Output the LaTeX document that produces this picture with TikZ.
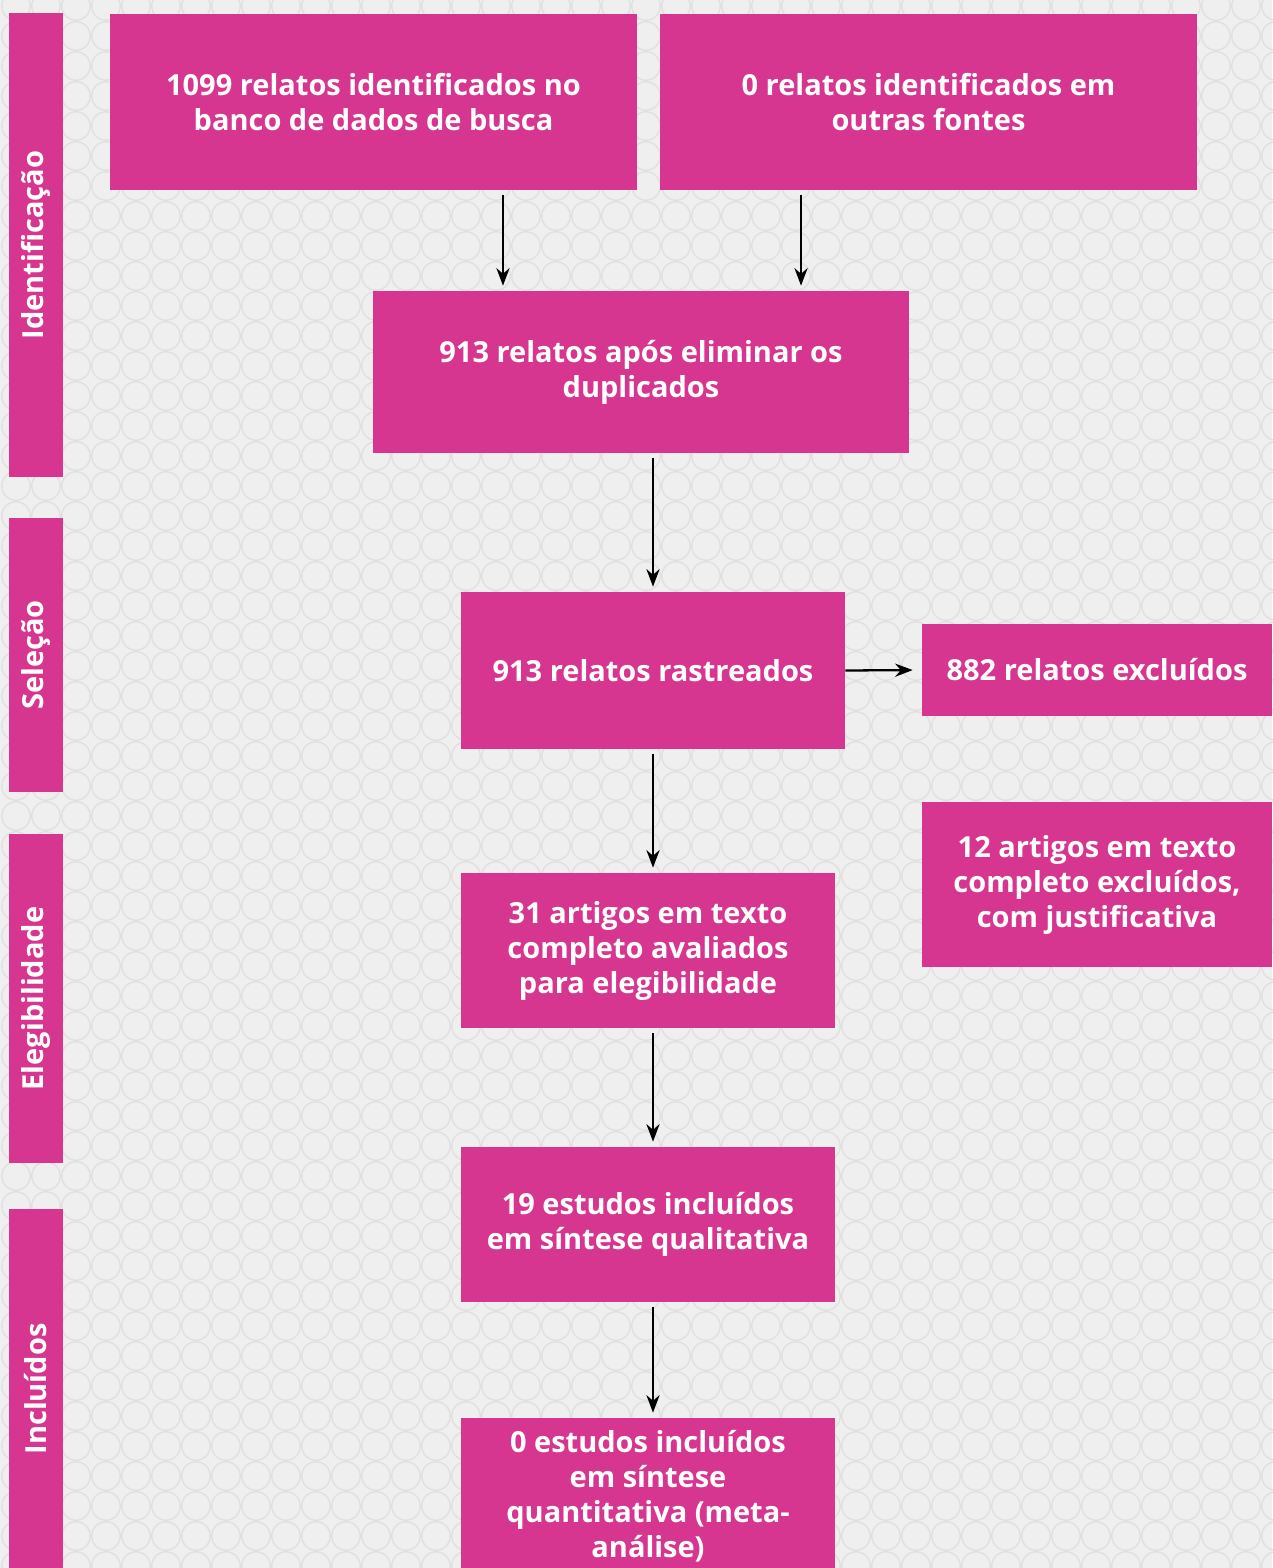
\documentclass[tikz,border=0pt]{standalone}
\usepackage{fontspec}
\setmainfont{Open Sans}
\usetikzlibrary{arrows.meta}

\definecolor{rosa}{RGB}{214,54,143}
\definecolor{fundo}{RGB}{239,239,239}
\definecolor{anel}{RGB}{224,224,224}

\tikzstyle{caixa} = [
    rectangle,
    fill=rosa,
    text=white,
    font=\bfseries\fontsize{16.5}{19.9}\selectfont,
    align=center,
    inner sep=0pt
]
\tikzstyle{fase} = [
    rectangle,
    rotate=90,
    fill=rosa,
    text=white,
    font=\bfseries\fontsize{16.5}{19.9}\selectfont,
    minimum height=1.08cm,
    inner sep=0pt
]
\tikzstyle{arrow} = [line width=1.3pt,-{Stealth[length=10pt,width=7.5pt]},shorten <=0.1cm,shorten >=0.1cm]

\begin{document}
\begin{tikzpicture}[x=0.02cm, y=-0.02cm]

% fundo com circulos
\fill[fundo] (0,0) rectangle (1272,1568);
\useasboundingbox (0,0) rectangle (1272,1568);
\foreach \i in {0,...,42}
  \foreach \j in {0,...,52}
    \draw[anel, line width=0.8pt] (16+30*\i, 6+30*\j) circle[radius=0.285cm];

% fases
\node (ident) [fase, minimum width=9.28cm] at (36,245) {Identificação};
\node (selec) [fase, minimum width=5.48cm] at (36,655) {Seleção};
\node (eleg) [fase, minimum width=6.58cm] at (36,998.5) {Elegibilidade};
\node (incl) [fase, minimum width=7.2cm] at (36,1389) {Incluídos};

% caixas
\node (busca) [caixa, minimum width=10.54cm, minimum height=3.52cm] at (373.5,102)
{1099 relatos identificados no\\banco de dados de busca};

\node (outras) [caixa, minimum width=10.74cm, minimum height=3.52cm] at (928.5,102)
{0 relatos identificados em\\outras fontes};

\node (semdup) [caixa, minimum width=10.72cm, minimum height=3.24cm] at (641,372)
{913 relatos após eliminar os\\duplicados};

\node (rastreados) [caixa, minimum width=7.68cm, minimum height=3.14cm] at (653,670.5)
{913 relatos rastreados};

\node (excluidos) [caixa, minimum width=7cm, minimum height=1.84cm] at (1097,670)
{882 relatos excluídos};

\node (avaliados) [caixa, minimum width=7.48cm, minimum height=3.1cm] at (648,950.5)
{31 artigos em texto\\completo avaliados\\para elegibilidade};

\node (justif) [caixa, minimum width=7cm, minimum height=3.3cm] at (1097,884.5)
{12 artigos em texto\\completo excluídos,\\com justificativa};

\node (qualit) [caixa, minimum width=7.48cm, minimum height=3.1cm] at (648,1224.5)
{19 estudos incluídos\\em síntese qualitativa};

\node (quant) [caixa, minimum width=7.48cm, minimum height=3.12cm] at (648,1496)
{0 estudos incluídos\\em síntese\\quantitativa (meta-\\análise)};

% setas
\draw [arrow] ([xshift=2.59cm]busca.south) -- ([xshift=2.59cm]busca.south |- semdup.north);
\draw [arrow] ([xshift=-2.55cm]outras.south) -- ([xshift=-2.55cm]outras.south |- semdup.north);
\draw [arrow] (rastreados.north |- semdup.south) -- (rastreados.north);
\draw [arrow, shorten <=0pt, shorten >=0.18cm] (rastreados.east) -- (excluidos.west);
\draw [arrow] (rastreados.south) -- (rastreados.south |- avaliados.north);
\draw [arrow] (rastreados.south |- avaliados.south) -- (rastreados.south |- qualit.north);
\draw [arrow] (rastreados.south |- qualit.south) -- (rastreados.south |- quant.north);

\end{tikzpicture}
\end{document}
